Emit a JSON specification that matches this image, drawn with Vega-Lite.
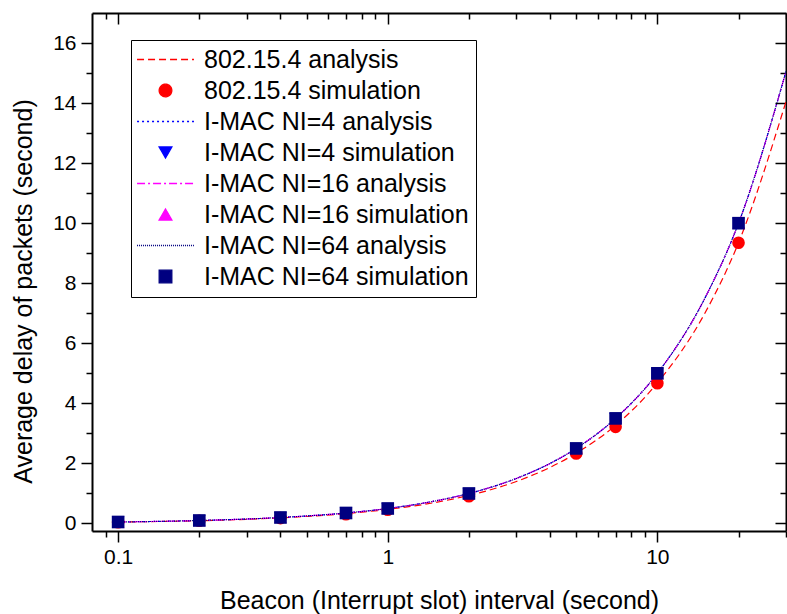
{
  "$schema": "https://vega.github.io/schema/vega-lite/v6.json",
  "width": 694,
  "height": 518,
  "autosize": {"type": "none"},
  "padding": {"left": 92, "top": 13, "right": 1, "bottom": 83},
  "background": "white",
  "config": {
    "view": {"stroke": null},
    "font": "Liberation Sans",
    "axis": {
      "grid": false,
      "domainColor": "black",
      "domainWidth": 2,
      "tickColor": "black",
      "tickWidth": 1.5,
      "labelColor": "black",
      "titleColor": "black",
      "labelFont": "Liberation Sans",
      "titleFont": "Liberation Sans",
      "labelFontSize": 21,
      "titleFontSize": 25,
      "titleFontWeight": "normal",
      "labelOverlap": false,
      "labelFlush": false
    },
    "legend": {
      "orient": "none",
      "legendX": 39,
      "legendY": 27,
      "strokeColor": "black",
      "strokeWidth": 1,
      "fillColor": "white",
      "padding": 7,
      "labelFont": "Liberation Sans",
      "labelFontSize": 25,
      "labelColor": "black",
      "labelLimit": 0,
      "symbolSize": 160,
      "symbolStrokeWidth": 1.3,
      "symbolOffset": 15,
      "labelOffset": 26,
      "rowPadding": 5
    }
  },
  "datasets": {
    "analysis": [
      {"series": "802.15.4 analysis", "x": 0.1, "y": 0.05},
      {"series": "802.15.4 analysis", "x": 0.2, "y": 0.093},
      {"series": "802.15.4 analysis", "x": 0.4, "y": 0.187},
      {"series": "802.15.4 analysis", "x": 0.7, "y": 0.33},
      {"series": "802.15.4 analysis", "x": 1, "y": 0.47},
      {"series": "802.15.4 analysis", "x": 1.5, "y": 0.7},
      {"series": "802.15.4 analysis", "x": 2, "y": 0.935},
      {"series": "802.15.4 analysis", "x": 3, "y": 1.4},
      {"series": "802.15.4 analysis", "x": 4, "y": 1.87},
      {"series": "802.15.4 analysis", "x": 5, "y": 2.34},
      {"series": "802.15.4 analysis", "x": 7, "y": 3.27},
      {"series": "802.15.4 analysis", "x": 10, "y": 4.68},
      {"series": "802.15.4 analysis", "x": 15, "y": 7.0},
      {"series": "802.15.4 analysis", "x": 20, "y": 9.35},
      {"series": "802.15.4 analysis", "x": 30, "y": 14.05},
      {"series": "I-MAC NI=4 analysis", "x": 0.1, "y": 0.05},
      {"series": "I-MAC NI=4 analysis", "x": 0.2, "y": 0.1},
      {"series": "I-MAC NI=4 analysis", "x": 0.4, "y": 0.2},
      {"series": "I-MAC NI=4 analysis", "x": 0.7, "y": 0.35},
      {"series": "I-MAC NI=4 analysis", "x": 1, "y": 0.5},
      {"series": "I-MAC NI=4 analysis", "x": 1.5, "y": 0.75},
      {"series": "I-MAC NI=4 analysis", "x": 2, "y": 1.0},
      {"series": "I-MAC NI=4 analysis", "x": 3, "y": 1.5},
      {"series": "I-MAC NI=4 analysis", "x": 4, "y": 2.0},
      {"series": "I-MAC NI=4 analysis", "x": 5, "y": 2.5},
      {"series": "I-MAC NI=4 analysis", "x": 7, "y": 3.5},
      {"series": "I-MAC NI=4 analysis", "x": 10, "y": 5.0},
      {"series": "I-MAC NI=4 analysis", "x": 15, "y": 7.5},
      {"series": "I-MAC NI=4 analysis", "x": 20, "y": 10.0},
      {"series": "I-MAC NI=4 analysis", "x": 30, "y": 15.05},
      {"series": "I-MAC NI=16 analysis", "x": 0.1, "y": 0.05},
      {"series": "I-MAC NI=16 analysis", "x": 0.2, "y": 0.1},
      {"series": "I-MAC NI=16 analysis", "x": 0.4, "y": 0.2},
      {"series": "I-MAC NI=16 analysis", "x": 0.7, "y": 0.35},
      {"series": "I-MAC NI=16 analysis", "x": 1, "y": 0.5},
      {"series": "I-MAC NI=16 analysis", "x": 1.5, "y": 0.75},
      {"series": "I-MAC NI=16 analysis", "x": 2, "y": 1.0},
      {"series": "I-MAC NI=16 analysis", "x": 3, "y": 1.5},
      {"series": "I-MAC NI=16 analysis", "x": 4, "y": 2.0},
      {"series": "I-MAC NI=16 analysis", "x": 5, "y": 2.5},
      {"series": "I-MAC NI=16 analysis", "x": 7, "y": 3.5},
      {"series": "I-MAC NI=16 analysis", "x": 10, "y": 5.0},
      {"series": "I-MAC NI=16 analysis", "x": 15, "y": 7.5},
      {"series": "I-MAC NI=16 analysis", "x": 20, "y": 10.0},
      {"series": "I-MAC NI=16 analysis", "x": 30, "y": 15.05},
      {"series": "I-MAC NI=64 analysis", "x": 0.1, "y": 0.05},
      {"series": "I-MAC NI=64 analysis", "x": 0.2, "y": 0.1},
      {"series": "I-MAC NI=64 analysis", "x": 0.4, "y": 0.2},
      {"series": "I-MAC NI=64 analysis", "x": 0.7, "y": 0.35},
      {"series": "I-MAC NI=64 analysis", "x": 1, "y": 0.5},
      {"series": "I-MAC NI=64 analysis", "x": 1.5, "y": 0.75},
      {"series": "I-MAC NI=64 analysis", "x": 2, "y": 1.0},
      {"series": "I-MAC NI=64 analysis", "x": 3, "y": 1.5},
      {"series": "I-MAC NI=64 analysis", "x": 4, "y": 2.0},
      {"series": "I-MAC NI=64 analysis", "x": 5, "y": 2.5},
      {"series": "I-MAC NI=64 analysis", "x": 7, "y": 3.5},
      {"series": "I-MAC NI=64 analysis", "x": 10, "y": 5.0},
      {"series": "I-MAC NI=64 analysis", "x": 15, "y": 7.5},
      {"series": "I-MAC NI=64 analysis", "x": 20, "y": 10.0},
      {"series": "I-MAC NI=64 analysis", "x": 30, "y": 15.05}
    ],
    "simulation": [
      {"series": "802.15.4 simulation", "x": 0.1, "y": 0.04},
      {"series": "802.15.4 simulation", "x": 0.2, "y": 0.09},
      {"series": "802.15.4 simulation", "x": 0.4, "y": 0.18},
      {"series": "802.15.4 simulation", "x": 0.7, "y": 0.31},
      {"series": "802.15.4 simulation", "x": 1, "y": 0.46},
      {"series": "802.15.4 simulation", "x": 2, "y": 0.91},
      {"series": "802.15.4 simulation", "x": 5, "y": 2.33},
      {"series": "802.15.4 simulation", "x": 7, "y": 3.22},
      {"series": "802.15.4 simulation", "x": 10, "y": 4.67},
      {"series": "802.15.4 simulation", "x": 20, "y": 9.35},
      {"series": "I-MAC NI=4 simulation", "x": 0.1, "y": 0.05},
      {"series": "I-MAC NI=4 simulation", "x": 0.2, "y": 0.1},
      {"series": "I-MAC NI=4 simulation", "x": 0.4, "y": 0.2},
      {"series": "I-MAC NI=4 simulation", "x": 0.7, "y": 0.35},
      {"series": "I-MAC NI=4 simulation", "x": 1, "y": 0.5},
      {"series": "I-MAC NI=4 simulation", "x": 2, "y": 1.0},
      {"series": "I-MAC NI=4 simulation", "x": 5, "y": 2.5},
      {"series": "I-MAC NI=4 simulation", "x": 7, "y": 3.5},
      {"series": "I-MAC NI=4 simulation", "x": 10, "y": 5.0},
      {"series": "I-MAC NI=4 simulation", "x": 20, "y": 10.0},
      {"series": "I-MAC NI=16 simulation", "x": 0.1, "y": 0.05},
      {"series": "I-MAC NI=16 simulation", "x": 0.2, "y": 0.1},
      {"series": "I-MAC NI=16 simulation", "x": 0.4, "y": 0.2},
      {"series": "I-MAC NI=16 simulation", "x": 0.7, "y": 0.35},
      {"series": "I-MAC NI=16 simulation", "x": 1, "y": 0.5},
      {"series": "I-MAC NI=16 simulation", "x": 2, "y": 1.0},
      {"series": "I-MAC NI=16 simulation", "x": 5, "y": 2.5},
      {"series": "I-MAC NI=16 simulation", "x": 7, "y": 3.5},
      {"series": "I-MAC NI=16 simulation", "x": 10, "y": 5.0},
      {"series": "I-MAC NI=16 simulation", "x": 20, "y": 10.0},
      {"series": "I-MAC NI=64 simulation", "x": 0.1, "y": 0.05},
      {"series": "I-MAC NI=64 simulation", "x": 0.2, "y": 0.1},
      {"series": "I-MAC NI=64 simulation", "x": 0.4, "y": 0.2},
      {"series": "I-MAC NI=64 simulation", "x": 0.7, "y": 0.35},
      {"series": "I-MAC NI=64 simulation", "x": 1, "y": 0.5},
      {"series": "I-MAC NI=64 simulation", "x": 2, "y": 1.0},
      {"series": "I-MAC NI=64 simulation", "x": 5, "y": 2.5},
      {"series": "I-MAC NI=64 simulation", "x": 7, "y": 3.5},
      {"series": "I-MAC NI=64 simulation", "x": 10, "y": 5.0},
      {"series": "I-MAC NI=64 simulation", "x": 20, "y": 10.0}
    ]
  },
  "layer": [
    {
      "data": {"name": "analysis"},
      "mark": {"type": "line", "strokeWidth": 1.2, "interpolate": "monotone", "clip": true},
      "encoding": {
        "x": {
          "field": "x", "type": "quantitative",
          "scale": {"type": "log", "domain": [0.08, 30], "nice": false},
          "axis": {
            "orient": "bottom",
            "values": [0.09, 0.1, 0.2, 0.3, 0.4, 0.5, 0.6, 0.7, 0.8, 0.9, 1, 2, 3, 4, 5, 6, 7, 8, 9, 10, 20, 30],
            "labelExpr": "datum.value == 0.1 ? '0.1' : datum.value == 1 ? '1' : datum.value == 10 ? '10' : ''",
            "tickSize": {"condition": {"test": "datum.value == 0.1 || datum.value == 1 || datum.value == 10", "value": 11}, "value": 6},
            "labelPadding": 4,
            "title": "Beacon (Interrupt slot) interval (second)",
            "titleBaseline": "alphabetic",
            "titleY": 77
          }
        },
        "y": {
          "field": "y", "type": "quantitative",
          "scale": {"domain": [-0.25, 17], "nice": false, "zero": false},
          "axis": {
            "orient": "left",
            "values": [0, 1, 2, 3, 4, 5, 6, 7, 8, 9, 10, 11, 12, 13, 14, 15, 16],
            "labelExpr": "datum.value % 2 == 0 ? datum.label : ''",
            "tickSize": {"condition": {"test": "datum.value % 2 == 0", "value": 11}, "value": 6},
            "labelPadding": 5,
            "title": "Average delay of packets (second)",
            "titleX": -56,
            "titleY": 278
          }
        },
        "color": {
          "field": "series", "type": "nominal",
          "scale": {
            "domain": ["802.15.4 analysis", "802.15.4 simulation", "I-MAC NI=4 analysis", "I-MAC NI=4 simulation", "I-MAC NI=16 analysis", "I-MAC NI=16 simulation", "I-MAC NI=64 analysis", "I-MAC NI=64 simulation"],
            "range": ["#FF0000", "#FF0000", "#0000FF", "#0000FF", "#FF00FF", "#FF00FF", "#000080", "#000080"]
          },
          "legend": {
            "title": null,
            "encode": {"symbols": {"update": {
              "fill": {"scale": "color", "field": "value"},
              "stroke": {"scale": "color", "field": "value"},
              "strokeDash": {"scale": "strokeDash", "field": "value"},
              "shape": {"scale": "shape", "field": "value"}
            }}}
          }
        },
        "strokeDash": {
          "field": "series", "type": "nominal",
          "scale": {
            "domain": ["802.15.4 analysis", "802.15.4 simulation", "I-MAC NI=4 analysis", "I-MAC NI=4 simulation", "I-MAC NI=16 analysis", "I-MAC NI=16 simulation", "I-MAC NI=64 analysis", "I-MAC NI=64 simulation"],
            "range": [[7, 4], [1, 0], [2, 3], [1, 0], [8, 3, 2, 3], [1, 0], [1, 1], [1, 0]]
          },
          "legend": {
            "title": null,
            "encode": {"symbols": {"update": {
              "fill": {"scale": "color", "field": "value"},
              "stroke": {"scale": "color", "field": "value"},
              "strokeDash": {"scale": "strokeDash", "field": "value"},
              "shape": {"scale": "shape", "field": "value"}
            }}}
          }
        }
      }
    },
    {
      "data": {"name": "simulation"},
      "mark": {"type": "point", "filled": true, "opacity": 1},
      "encoding": {
        "x": {
          "field": "x", "type": "quantitative",
          "scale": {"type": "log", "domain": [0.08, 30], "nice": false},
          "axis": {
            "orient": "top",
            "values": [0.09, 0.1, 0.2, 0.3, 0.4, 0.5, 0.6, 0.7, 0.8, 0.9, 1, 2, 3, 4, 5, 6, 7, 8, 9, 10, 20, 30],
            "labels": false,
            "title": null,
            "tickSize": {"condition": {"test": "datum.value == 0.1 || datum.value == 1 || datum.value == 10", "value": -11}, "value": -6}
          }
        },
        "y": {
          "field": "y", "type": "quantitative",
          "scale": {"domain": [-0.25, 17], "nice": false, "zero": false},
          "axis": {
            "orient": "right",
            "values": [0, 1, 2, 3, 4, 5, 6, 7, 8, 9, 10, 11, 12, 13, 14, 15, 16],
            "labels": false,
            "title": null,
            "tickSize": {"condition": {"test": "datum.value % 2 == 0", "value": -11}, "value": -6}
          }
        },
        "color": {
          "field": "series", "type": "nominal",
          "scale": {
            "domain": ["802.15.4 analysis", "802.15.4 simulation", "I-MAC NI=4 analysis", "I-MAC NI=4 simulation", "I-MAC NI=16 analysis", "I-MAC NI=16 simulation", "I-MAC NI=64 analysis", "I-MAC NI=64 simulation"],
            "range": ["#FF0000", "#FF0000", "#0000FF", "#0000FF", "#FF00FF", "#FF00FF", "#000080", "#000080"]
          },
          "legend": {
            "title": null,
            "encode": {"symbols": {"update": {
              "fill": {"scale": "color", "field": "value"},
              "stroke": {"scale": "color", "field": "value"},
              "strokeDash": {"scale": "strokeDash", "field": "value"},
              "shape": {"scale": "shape", "field": "value"}
            }}}
          }
        },
        "shape": {
          "field": "series", "type": "nominal",
          "scale": {
            "domain": ["802.15.4 analysis", "802.15.4 simulation", "I-MAC NI=4 analysis", "I-MAC NI=4 simulation", "I-MAC NI=16 analysis", "I-MAC NI=16 simulation", "I-MAC NI=64 analysis", "I-MAC NI=64 simulation"],
            "range": ["M-4.5,0H4.5", "circle", "M-4.5,0H4.5", "triangle-down", "M-4.5,0H4.5", "triangle-up", "M-4.5,0H4.5", "square"]
          },
          "legend": {
            "title": null,
            "encode": {"symbols": {"update": {
              "fill": {"scale": "color", "field": "value"},
              "stroke": {"scale": "color", "field": "value"},
              "strokeDash": {"scale": "strokeDash", "field": "value"},
              "shape": {"scale": "shape", "field": "value"}
            }}}
          }
        },
        "size": {
          "field": "series", "type": "nominal",
          "scale": {
            "domain": ["802.15.4 analysis", "802.15.4 simulation", "I-MAC NI=4 analysis", "I-MAC NI=4 simulation", "I-MAC NI=16 analysis", "I-MAC NI=16 simulation", "I-MAC NI=64 analysis", "I-MAC NI=64 simulation"],
            "range": [160, 160, 160, 260, 160, 260, 160, 105]
          },
          "legend": null
        }
      }
    }
  ],
  "resolve": {"axis": {"x": "independent", "y": "independent"}}
}
